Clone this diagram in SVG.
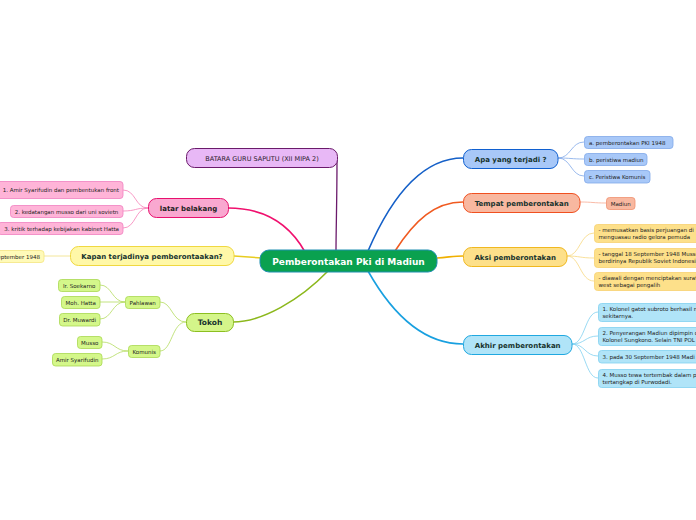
<svg xmlns="http://www.w3.org/2000/svg" width="696" height="520" viewBox="0 0 696 520">
<style>
text{font-family:"DejaVu Sans","Liberation Sans",sans-serif;fill:#1a2a2a}
.m{font-size:7px;font-weight:bold;text-anchor:middle;fill:#17332e}
.s{font-size:5.5px;fill:#222}
.sc{font-size:5.5px;text-anchor:middle;fill:#222}
.c{fill:none;stroke-linecap:round}
</style>
<rect width="696" height="520" fill="#ffffff"/>
<g id="connectors">
<path class="c" d="M337,160 C337,200 336,230 336,251" stroke="#6b1a6b" stroke-width="1.3"/>
<path class="c" d="M228,208 C265,208 290,225 305,252" stroke="#f0106e" stroke-width="1.6"/>
<path class="c" d="M234,256 L262,258" stroke="#e8cc20" stroke-width="1.6"/>
<path class="c" d="M328,271 C300,300 262,322 233,322" stroke="#8cb81c" stroke-width="1.6"/>
<path class="c" d="M368,251 C390,200 420,158 463,158" stroke="#1560c8" stroke-width="1.6"/>
<path class="c" d="M395,251 C415,220 435,202 463,202" stroke="#f05a20" stroke-width="1.6"/>
<path class="c" d="M437,258 C450,257 455,256 463,256" stroke="#f0b000" stroke-width="1.6"/>
<path class="c" d="M368,271 C390,310 420,344 463,344" stroke="#18a0e0" stroke-width="1.6"/>
<g stroke="#f680b8" stroke-width="0.8" fill="none">
<path d="M148,208 C135,208 136,190 123,190"/>
<path d="M148,208 C135,208 136,211 123,211"/>
<path d="M148,208 C135,208 136,228 123,228"/>
</g>
<path d="M70,256 L44,256" stroke="#f0e080" stroke-width="0.8" fill="none"/>
<g stroke="#b4dc60" stroke-width="0.8" fill="none">
<path d="M186,322 C172,322 172,302 160,302"/>
<path d="M186,322 C172,322 172,351 160,351"/>
<path d="M125,302 C112,302 112,285 100,285"/>
<path d="M125,302 L100,302"/>
<path d="M125,302 C112,302 112,319 100,319"/>
<path d="M128,351 C115,351 115,342 102,342"/>
<path d="M128,351 C115,351 115,359 102,359"/>
</g>
<g stroke="#80a8e8" stroke-width="0.8" fill="none">
<path d="M558,158 C571,158 571,142 584,142"/>
<path d="M558,158 C571,158 571,159 584,159"/>
<path d="M558,158 C571,158 571,176 584,176"/>
</g>
<path d="M580,202 C593,202 593,203 606,203" stroke="#f8a890" stroke-width="0.8" fill="none"/>
<g stroke="#f8d880" stroke-width="0.8" fill="none">
<path d="M567,256 C580,256 580,233 594,233"/>
<path d="M567,256 C580,256 580,258 594,258"/>
<path d="M567,256 C580,256 580,281 594,281"/>
</g>
<g stroke="#80d0f0" stroke-width="0.8" fill="none">
<path d="M572,344 C585,344 585,312 598,312"/>
<path d="M572,344 C585,344 585,336 598,336"/>
<path d="M572,344 C585,344 585,356 598,356"/>
<path d="M572,344 C585,344 585,378 598,378"/>
</g>
</g>
<g id="center">
<rect x="260" y="250" width="177" height="22" rx="9" fill="#0aa14f" stroke="#1f8fb0" stroke-width="1"/>
<text x="348.5" y="264.5" text-anchor="middle" style="font-size:9px;font-weight:bold;fill:#ffffff">Pemberontakan Pki di Madiun</text>
</g>
<g id="batara">
<rect x="186.5" y="148.5" width="151" height="19" rx="8" fill="#e8b8f6" stroke="#6b1a6b" stroke-width="1"/>
<text x="262" y="160.5" text-anchor="middle" style="font-size:6.5px;fill:#2a1a2a">BATARA GURU SAPUTU (XII MIPA 2)</text>
</g>
<g id="latar">
<rect x="148.5" y="198.5" width="80" height="19" rx="8" fill="#f9a8d0" stroke="#e8106e" stroke-width="1"/>
<text class="m" x="188.5" y="210.5" style="fill:#222">latar belakang</text>
</g>
<g id="latar1">
<rect x="-10" y="181.5" width="133" height="17" rx="3" fill="#ffb4d8" stroke="#f080c0" stroke-width="0.8"/>
<text class="s" x="119" y="191.5" text-anchor="end">1. Amir Syarifudin dan pembentukan front</text>
</g>
<g id="latar2">
<rect x="10.5" y="205.5" width="112.5" height="12" rx="3" fill="#ffb4d8" stroke="#f080c0" stroke-width="0.8"/>
<text class="sc" x="66.5" y="213.5">2. kedatangan musso dari uni sovietn</text>
</g>
<g id="latar3">
<rect x="-2" y="222.5" width="125" height="12" rx="3" fill="#ffb4d8" stroke="#f080c0" stroke-width="0.8"/>
<text class="s" x="119" y="230.5" text-anchor="end">3. kritik terhadap kebijakan kabinet Hatta</text>
</g>
<g id="kapan">
<rect x="70.5" y="246.5" width="163.5" height="19" rx="8" fill="#fff8a8" stroke="#f0d840" stroke-width="1"/>
<text class="m" x="152" y="258.5">Kapan terjadinya pemberontaakan?</text>
</g>
<g id="kapan1">
<rect x="-10" y="250.5" width="54" height="12" rx="3" fill="#fffab8" stroke="#f4e480" stroke-width="0.8"/>
<text class="s" x="40" y="258.5" text-anchor="end">18 September 1948</text>
</g>
<g id="tokoh">
<rect x="186.5" y="313.5" width="47" height="18" rx="8" fill="#d4f58a" stroke="#8cbf20" stroke-width="1"/>
<text class="m" x="210" y="325" style="font-size:7.5px">Tokoh</text>
</g>
<g id="pahlawan">
<rect x="125.5" y="296.5" width="34.5" height="12" rx="3" fill="#d4f78a" stroke="#a8d850" stroke-width="0.8"/>
<text class="sc" x="142.7" y="304.5">Pahlawan</text>
</g>
<g id="soekarno">
<rect x="58.5" y="279.5" width="41.5" height="12" rx="3" fill="#d4f78a" stroke="#a8d850" stroke-width="0.8"/>
<text class="sc" x="79.2" y="287.5">Ir. Soekarno</text>
</g>
<g id="hatta">
<rect x="61.5" y="296.5" width="38.5" height="12" rx="3" fill="#d4f78a" stroke="#a8d850" stroke-width="0.8"/>
<text class="sc" x="80.7" y="304.5">Moh. Hatta</text>
</g>
<g id="muwardi">
<rect x="59.5" y="313.5" width="40.5" height="12.5" rx="3" fill="#d4f78a" stroke="#a8d850" stroke-width="0.8"/>
<text class="sc" x="79.7" y="321.8">Dr. Muwardi</text>
</g>
<g id="komunis">
<rect x="128.5" y="345.5" width="31.5" height="12" rx="3" fill="#d4f78a" stroke="#a8d850" stroke-width="0.8"/>
<text class="sc" x="144.2" y="353.5">Komunis</text>
</g>
<g id="musso">
<rect x="77.5" y="336.5" width="24.5" height="12" rx="3" fill="#d4f78a" stroke="#a8d850" stroke-width="0.8"/>
<text class="sc" x="89.7" y="344.5">Musso</text>
</g>
<g id="amir">
<rect x="52.5" y="353.5" width="49.5" height="12.5" rx="3" fill="#d4f78a" stroke="#a8d850" stroke-width="0.8"/>
<text class="sc" x="77.2" y="361.8">Amir Syarifudin</text>
</g>
<g id="apa">
<rect x="463.5" y="149.5" width="94.5" height="19" rx="8" fill="#a8c8f8" stroke="#1060d0" stroke-width="1"/>
<text class="m" x="510.7" y="161.5">Apa yang terjadi ?</text>
</g>
<g id="apa1">
<rect x="584.5" y="136.5" width="88.5" height="12" rx="3" fill="#a8c8f8" stroke="#80a8e8" stroke-width="0.8"/>
<text class="s" x="589" y="144.5">a.  pemberontakan PKI 1948</text>
</g>
<g id="apa2">
<rect x="584.5" y="153.5" width="62.5" height="12" rx="3" fill="#a8c8f8" stroke="#80a8e8" stroke-width="0.8"/>
<text class="s" x="589" y="161.5">b. peristiwa madiun</text>
</g>
<g id="apa3">
<rect x="584.5" y="170.5" width="65.5" height="12.5" rx="3" fill="#a8c8f8" stroke="#80a8e8" stroke-width="0.8"/>
<text class="s" x="589" y="178.8">c. Peristiwa Komunis</text>
</g>
<g id="tempat">
<rect x="463.5" y="193.5" width="116.5" height="19" rx="8" fill="#f8b8a0" stroke="#f05020" stroke-width="1"/>
<text class="m" x="521.7" y="205.5">Tempat pemberontakan</text>
</g>
<g id="madiun">
<rect x="606.5" y="197.5" width="28.5" height="12" rx="3" fill="#f8b8a0" stroke="#f09070" stroke-width="0.8"/>
<text class="sc" x="620.7" y="205.5">Madiun</text>
</g>
<g id="aksi">
<rect x="463.5" y="247.5" width="103.5" height="19" rx="8" fill="#fde08a" stroke="#f0b820" stroke-width="1"/>
<text class="m" x="515.2" y="259.5">Aksi pemberontakan</text>
</g>
<g id="aksi1">
<rect x="594.5" y="224.5" width="110" height="18" rx="3" fill="#fde08a" stroke="#f8d070" stroke-width="0.8"/>
<text class="s" x="598.5" y="231.5">- memusatkan basis perjuangan di</text>
<text class="s" x="598.5" y="238.5">menguasau radio gelora pemuda</text>
</g>
<g id="aksi2">
<rect x="594.5" y="248.5" width="110" height="19" rx="3" fill="#fde08a" stroke="#f8d070" stroke-width="0.8"/>
<text class="s" x="598.5" y="256">- tanggal 18 September 1948 Musso</text>
<text class="s" x="598.5" y="263">berdirinya Republik Soviet Indonesia</text>
</g>
<g id="aksi3">
<rect x="594.5" y="272.5" width="110" height="18" rx="3" fill="#fde08a" stroke="#f8d070" stroke-width="0.8"/>
<text class="s" x="598.5" y="279.5">- diawali dengan menciptakan surat</text>
<text class="s" x="598.5" y="286.5">west sebagai pengalih</text>
</g>
<g id="akhir">
<rect x="463.5" y="335.5" width="108.5" height="19" rx="8" fill="#b0e4f8" stroke="#20a8e0" stroke-width="1"/>
<text class="m" x="517.7" y="347.5">Akhir pemberontakan</text>
</g>
<g id="akhir1">
<rect x="598.5" y="303.5" width="110" height="18" rx="3" fill="#b0e4f8" stroke="#80d0f0" stroke-width="0.8"/>
<text class="s" x="602.5" y="310.5">1. Kolonel gatot subroto berhasil m</text>
<text class="s" x="602.5" y="317.5">sekitarnya.</text>
</g>
<g id="akhir2">
<rect x="598.5" y="327.5" width="110" height="18" rx="3" fill="#b0e4f8" stroke="#80d0f0" stroke-width="0.8"/>
<text class="s" x="602.5" y="334.5">2. Penyerangan Madiun dipimpin o</text>
<text class="s" x="602.5" y="341.5">Kolonel Sungkono. Selain TNI POL</text>
</g>
<g id="akhir3">
<rect x="598.5" y="350.5" width="110" height="12.5" rx="3" fill="#b0e4f8" stroke="#80d0f0" stroke-width="0.8"/>
<text class="s" x="602.5" y="358.8">3. pada 30 September 1948 Madi</text>
</g>
<g id="akhir4">
<rect x="598.5" y="369.5" width="110" height="18" rx="3" fill="#b0e4f8" stroke="#80d0f0" stroke-width="0.8"/>
<text class="s" x="602.5" y="376.5">4. Musso tewa tertembak dalam p</text>
<text class="s" x="602.5" y="383.5">tertangkap di Purwodadi.</text>
</g>
</svg>
